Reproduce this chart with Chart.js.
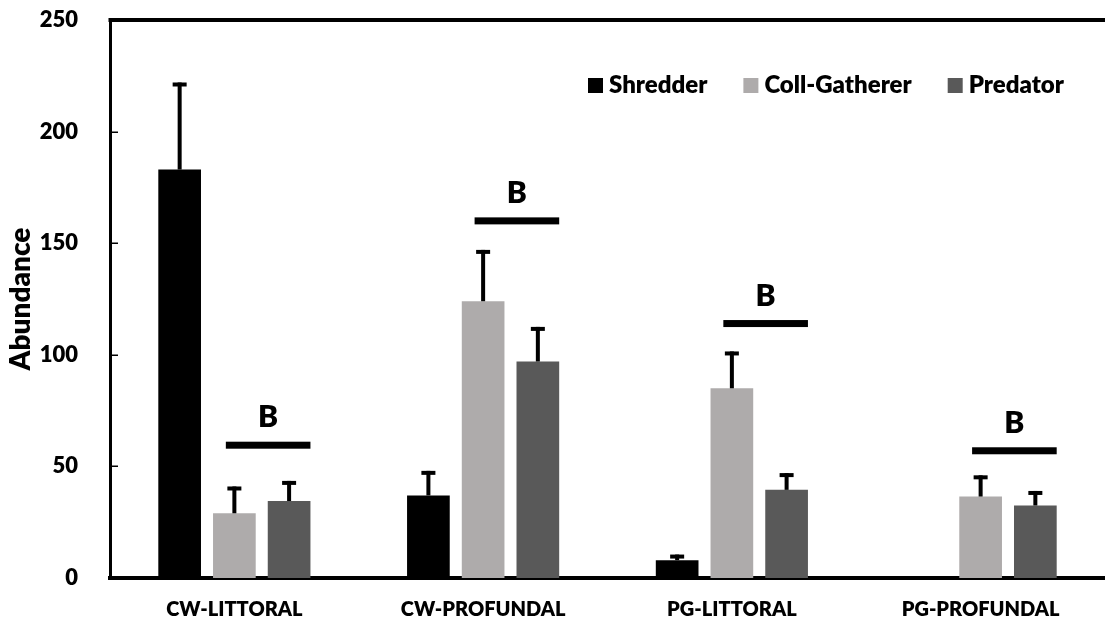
<!DOCTYPE html>
<html>
<head>
<meta charset="utf-8">
<script src="https://cdn.jsdelivr.net/npm/chart.js@4/dist/chart.umd.min.js"></script>
<style>
  html, body { margin: 0; padding: 0; background: #fff; }
  #chart { display: block; }
</style>
</head>
<body>
<canvas id="chart" width="1105" height="622"></canvas>
<script>
// categories and series
var sites = ["CW-LITTORAL", "CW-PROFUNDAL", "PG-LITTORAL", "PG-PROFUNDAL"];
var shredder = [183, 37, 8, 0];
var collGatherer = [29, 124, 85, 36.5];
var predator = [34.5, 97, 39.5, 32.5];
// top of the error bars (mean + error)
var shredderErr = [222, 48, 10.5, null];
var collGathererErr = [41, 147, 101.5, 46];
var predatorErr = [43.5, 112.5, 47, 39];
// significance bars over coll-gatherer + predator
var sigLevel = [59.5, 160, 114, 57];
var sigLetter = ["B", "B", "B", "B"];
var yTicks = [0, 50, 100, 150, 200, 250];

var FONT = "Lato";
var WEIGHT = "800";

var errorBars = {
  id: "errorBars",
  afterDatasetsDraw: function (chart) {
    var ctx = chart.ctx;
    var y = chart.scales.y;
    ctx.save();
    ctx.fillStyle = "#000";
    chart.data.datasets.forEach(function (ds, di) {
      var meta = chart.getDatasetMeta(di);
      meta.data.forEach(function (bar, i) {
        var top = ds.errTop[i];
        if (top == null) return;
        var ey = y.getPixelForValue(top);
        ctx.fillRect(bar.x - 2, ey, 4, bar.y - ey);
        ctx.fillRect(bar.x - 7, ey, 14, 4);
      });
    });
    // significance lines + letters
    var g = chart.getDatasetMeta(1).data;
    var p = chart.getDatasetMeta(2).data;
    sigLevel.forEach(function (lvl, i) {
      var x1 = g[i].x - g[i].width / 2 + g[i].width * 0.3;
      var x2 = p[i].x + p[i].width / 2;
      var ly = y.getPixelForValue(lvl);
      ctx.fillRect(x1, ly - 3.5, x2 - x1, 7);
      ctx.font = WEIGHT + " 30px " + FONT;
      ctx.textAlign = "center";
      ctx.textBaseline = "alphabetic";
      ctx.fillText(sigLetter[i], (x1 + x2) / 2, ly - 18);
    });
    ctx.restore();
  }
};

var frame = {
  id: "frame",
  afterDraw: function (chart) {
    var ctx = chart.ctx;
    var a = chart.chartArea;
    var y = chart.scales.y;
    ctx.save();
    ctx.fillStyle = "#000";
    // top border line
    ctx.fillRect(a.left - 1.5, a.top - 2, a.right - a.left + 2, 4);
    // inward tick marks
    yTicks.forEach(function (t) {
      if (t === 0 || t === 250) return;
      var ty = Math.round(y.getPixelForValue(t));
      ctx.fillRect(a.left, ty - 0.5, 8, 1.5);
    });
    // legend
    ctx.font = WEIGHT + " 24px " + FONT;
    ctx.textBaseline = "middle";
    ctx.textAlign = "left";
    var lx = 588, ly = 85;
    chart.data.datasets.forEach(function (ds) {
      ctx.fillStyle = ds.backgroundColor;
      ctx.fillRect(lx, ly - 7, 15, 15);
      ctx.fillStyle = "#000";
      ctx.fillText(ds.label, lx + 21, ly);
      lx += 21 + ctx.measureText(ds.label).width + 36;
    });
    ctx.restore();
  }
};

new Chart(document.getElementById("chart"), {
  type: "bar",
  data: {
    labels: sites,
    datasets: [
      { label: "Shredder", data: shredder, errTop: shredderErr, backgroundColor: "#000000" },
      { label: "Coll-Gatherer", data: collGatherer, errTop: collGathererErr, backgroundColor: "#aeabab" },
      { label: "Predator", data: predator, errTop: predatorErr, backgroundColor: "#595959" }
    ]
  },
  options: {
    responsive: false,
    animation: false,
    events: [],
    categoryPercentage: 0.66,
    barPercentage: 0.78,
    layout: { autoPadding: false, padding: { top: 20, right: 0, bottom: 0, left: 0 } },
    plugins: {
      legend: { display: false },
      tooltip: { enabled: false }
    },
    scales: {
      x: {
        grid: { display: false },
        border: { display: true, color: "#000", width: 4 },
        ticks: {
          color: "#000",
          font: { family: FONT, size: 20, weight: WEIGHT },
          padding: 12
        },
        afterFit: function (s) { s.height = 44; }
      },
      y: {
        min: 0,
        max: 250,
        afterBuildTicks: function (s) {
          s.ticks = yTicks.map(function (v) { return { value: v }; });
        },
        grid: { display: false },
        border: { display: true, color: "#000", width: 3 },
        ticks: {
          color: "#000",
          font: { family: FONT, size: 22, weight: WEIGHT },
          padding: 24
        },
        title: {
          display: true,
          text: "Abundance",
          color: "#000",
          font: { family: FONT, size: 28, weight: WEIGHT },
          padding: { top: 4, bottom: 0 }
        },
        afterFit: function (s) {
          s.width = 110;
          s.paddingTop = 0;
          s.paddingBottom = 0;
        }
      }
    }
  },
  plugins: [errorBars, frame]
});
</script>
</body>
</html>
